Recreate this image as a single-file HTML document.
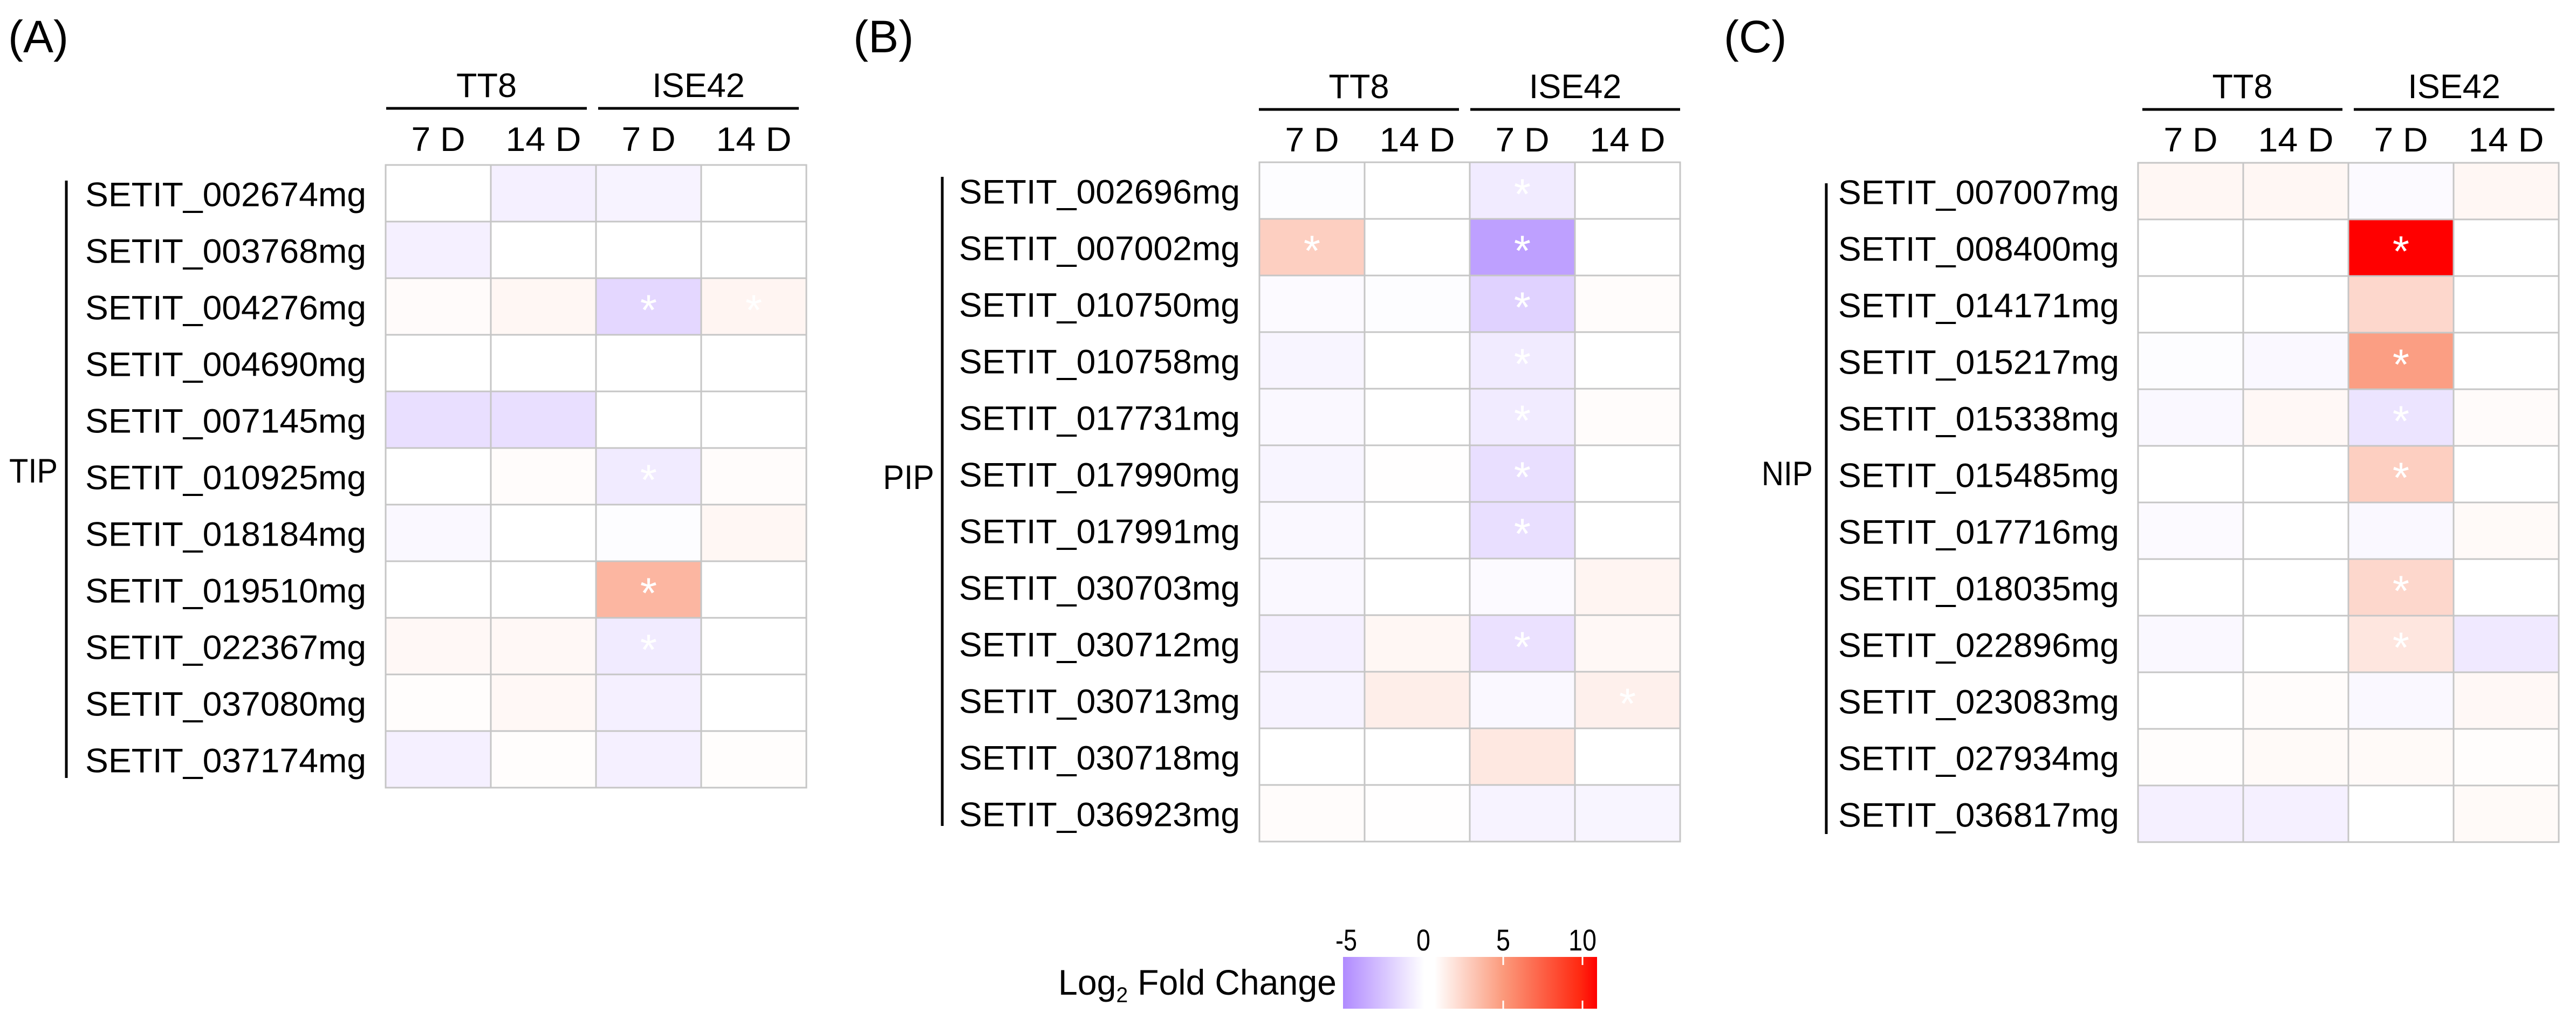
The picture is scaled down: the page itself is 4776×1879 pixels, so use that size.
<!DOCTYPE html>
<html><head><meta charset="utf-8"><style>
html,body{margin:0;padding:0;background:#fff;}
svg{display:block;}
text{font-family:"Liberation Sans",sans-serif;fill:#000;}
</style></head><body>
<svg id="fig" xmlns="http://www.w3.org/2000/svg" width="4776" height="1879" viewBox="0 0 4776 1879">
<defs>
<linearGradient id="cbg" x1="0" x2="1" y1="0" y2="0">
<stop offset="0" stop-color="#b08aff"/>
<stop offset="0.32" stop-color="#ffffff"/>
<stop offset="0.36" stop-color="#ffffff"/>
<stop offset="0.63" stop-color="#fb9a7c"/>
<stop offset="0.93" stop-color="#ff2a12"/>
<stop offset="1" stop-color="#ff0000"/>
</linearGradient>
</defs>
<g id="colorbar">
<text x="1962" y="1845" font-size="66" textLength="516" lengthAdjust="spacingAndGlyphs">Log<tspan font-size="40" dy="14">2</tspan><tspan dy="-14"> Fold Change</tspan></text>
<rect x="2490" y="1775" width="471" height="96" fill="url(#cbg)"/>
<line x1="2787" x2="2787" y1="1775" y2="1790" stroke="#fff" stroke-width="3"/>
<line x1="2787" x2="2787" y1="1856" y2="1871" stroke="#fff" stroke-width="3"/>
<line x1="2934" x2="2934" y1="1775" y2="1790" stroke="#fff" stroke-width="3"/>
<line x1="2934" x2="2934" y1="1856" y2="1871" stroke="#fff" stroke-width="3"/>
<text x="2496" y="1763" font-size="56" text-anchor="middle" textLength="40" lengthAdjust="spacingAndGlyphs">-5</text>
<text x="2639" y="1763" font-size="56" text-anchor="middle" textLength="26" lengthAdjust="spacingAndGlyphs">0</text>
<text x="2787" y="1763" font-size="56" text-anchor="middle" textLength="26" lengthAdjust="spacingAndGlyphs">5</text>
<text x="2934" y="1763" font-size="56" text-anchor="middle" textLength="52" lengthAdjust="spacingAndGlyphs">10</text>
</g>
</svg>
<script>
const colLabels = ["7 D","14 D","7 D","14 D"];
const groupLabels = ["TT8","ISE42"];

const genesA = ["SETIT_002674mg","SETIT_003768mg","SETIT_004276mg","SETIT_004690mg","SETIT_007145mg","SETIT_010925mg","SETIT_018184mg","SETIT_019510mg","SETIT_022367mg","SETIT_037080mg","SETIT_037174mg"];
const valuesA = [
[0,-0.6,-0.5,0],[-0.6,0,0,0],[0.2,0.4,-1.6,0.5],[0,0,0,0],[-1.3,-1.3,0,0],
[0,0.15,-0.8,0.15],[-0.3,0,-0.1,0.4],[0,0,3.5,0],[0.35,0.35,-0.8,0],[0.1,0.35,-0.6,0],[-0.6,0.1,-0.6,0.1]];
const sigA = [[0,0,0,0],[0,0,0,0],[0,0,1,1],[0,0,0,0],[0,0,0,0],[0,0,1,0],[0,0,0,0],[0,0,1,0],[0,0,1,0],[0,0,0,0],[0,0,0,0]];

const genesB = ["SETIT_002696mg","SETIT_007002mg","SETIT_010750mg","SETIT_010758mg","SETIT_017731mg","SETIT_017990mg","SETIT_017991mg","SETIT_030703mg","SETIT_030712mg","SETIT_030713mg","SETIT_030718mg","SETIT_036923mg"];
const valuesB = [
[-0.1,0,-0.8,0],[2.3,0,-3.8,0],[-0.2,-0.1,-1.8,0.15],[-0.4,0,-0.8,0],[-0.3,0,-0.8,0.15],
[-0.4,0.05,-1.3,0],[-0.3,0,-1.3,0],[-0.3,0,-0.2,0.5],[-0.6,0.4,-1.2,0.35],[-0.5,0.8,-0.3,0.7],[0,0,1.1,0],[0.15,0.05,-0.5,-0.4]];
const sigB = [[0,0,1,0],[1,0,1,0],[0,0,1,0],[0,0,1,0],[0,0,1,0],[0,0,1,0],[0,0,1,0],[0,0,0,0],[0,0,1,0],[0,0,0,1],[0,0,0,0],[0,0,0,0]];

const genesC = ["SETIT_007007mg","SETIT_008400mg","SETIT_014171mg","SETIT_015217mg","SETIT_015338mg","SETIT_015485mg","SETIT_017716mg","SETIT_018035mg","SETIT_022896mg","SETIT_023083mg","SETIT_027934mg","SETIT_036817mg"];
const valuesC = [
[0.4,0.4,-0.2,0.4],[0,0,10,0],[0,0,1.9,0],[-0.1,-0.3,4.6,0],[-0.3,0.35,-1.1,0.2],[0,0,2.3,0],
[-0.2,0,-0.3,0.25],[0,0,1.9,0],[-0.3,0,1.2,-0.9],[0,0.15,-0.3,0.35],[0.1,0.25,0.25,0.1],[-0.6,-0.6,0,0.25]];
const sigC = [[0,0,0,0],[0,0,1,0],[0,0,0,0],[0,0,1,0],[0,0,1,0],[0,0,1,0],[0,0,0,0],[0,0,1,0],[0,0,1,0],[0,0,0,0],[0,0,0,0],[0,0,0,0]];

const NS = "http://www.w3.org/2000/svg";
const svg = document.getElementById("fig");
function mk(tag, attrs, parent){const e=document.createElementNS(NS,tag);for(const k in attrs)e.setAttribute(k,attrs[k]);(parent||svg).appendChild(e);return e;}
function lerp(a,b,t){return a.map((x,i)=>Math.round(x+(b[i]-x)*t));}
function color(v){
  let c;
  if(v>=0){
    if(v<=5) c=lerp([255,255,255],[251,150,120],v/5);
    else c=lerp([251,150,120],[255,0,0],Math.min((v-5)/5,1));
  } else {
    c=lerp([255,255,255],[170,130,255],Math.min(-v/5,1));
  }
  return `rgb(${c[0]},${c[1]},${c[2]})`;
}
const panels = [
 {id:"a",tag:"(A)",family:"TIP",genes:genesA,vals:valuesA,sig:sigA,gx:715,gy:306,cw:195,rh:105,tagx:15,tagy:97,famx:17,famy:895,barx:123,bary1:335,bary2:1443,labx:158,labw:521,lines:[[716,1088],[1109,1481]],gty:180,sty:280},
 {id:"b",tag:"(B)",family:"PIP",genes:genesB,vals:valuesB,sig:sigB,gx:2335,gy:301,cw:195,rh:105,tagx:1582,tagy:97,famx:1637,famy:907,barx:1747,bary1:328,bary2:1532,labx:1778,labw:521,lines:[[2334,2705],[2726,3115]],gty:182,sty:281},
 {id:"c",tag:"(C)",family:"NIP",genes:genesC,vals:valuesC,sig:sigC,gx:3964,gy:302,cw:195,rh:105,tagx:3196,tagy:97,famx:3266,famy:900,barx:3386,bary1:340,bary2:1547,labx:3408,labw:521,lines:[[3972,4343],[4364,4736]],gty:182,sty:281}
];
panels.forEach(p=>{
  const g = mk("g",{});
  
  
  const t = mk("text",{x:p.tagx,y:p.tagy,"font-size":84},g); t.textContent=p.tag;
  
  
  const xAt = c => p.gx + c*p.cw;
  const yAt = r => p.gy + r*p.rh;
  groupLabels.forEach((gl,i)=>{
    const [x1,x2]=p.lines[i];
    const ln = mk("line",{x1:x1,x2:x2,y1:p.gty+21,y2:p.gty+21,stroke:"#000","stroke-width":5},g);
    
    
    const tx = mk("text",{x:(x1+x2)/2,y:p.gty,"font-size":63,"text-anchor":"middle"},g); tx.textContent=gl;
    
    
  });
  colLabels.forEach((cl,c)=>{
    const tx = mk("text",{x:xAt(c)+p.cw/2,y:p.sty,"font-size":63,"text-anchor":"middle",textLength:cl.length>3?140:100,lengthAdjust:"spacingAndGlyphs"},g); tx.textContent=cl;
    
    
  });
  const fam = mk("text",{x:p.famx,y:p.famy,"font-size":63,textLength:p.family==="TIP"?90:95,lengthAdjust:"spacingAndGlyphs"},g); fam.textContent=p.family;
  
  
  const br = mk("line",{x1:p.barx,x2:p.barx,y1:p.bary1,y2:p.bary2,stroke:"#000","stroke-width":5},g);
  
  
  p.genes.forEach((gene,r)=>{
    const lt = mk("text",{x:p.labx,y:yAt(r)+p.rh/2+24,"font-size":63,textLength:p.labw,lengthAdjust:"spacingAndGlyphs"},g); lt.textContent=gene;
    
    
    p.vals[r].forEach((v,c)=>{
      const cell = mk("rect",{x:xAt(c),y:yAt(r),width:p.cw,height:p.rh,fill:color(v),stroke:"#c6c6c6","stroke-width":3},g);
      
      
      if(p.sig[r][c]){
        const s = mk("text",{x:xAt(c)+p.cw/2,y:yAt(r)+p.rh/2+34,"font-size":80,"text-anchor":"middle",fill:"#fff",style:"fill:#fff"},g); s.textContent="*";
        
        
      }
    });
  });
});
</script>
</body></html>
